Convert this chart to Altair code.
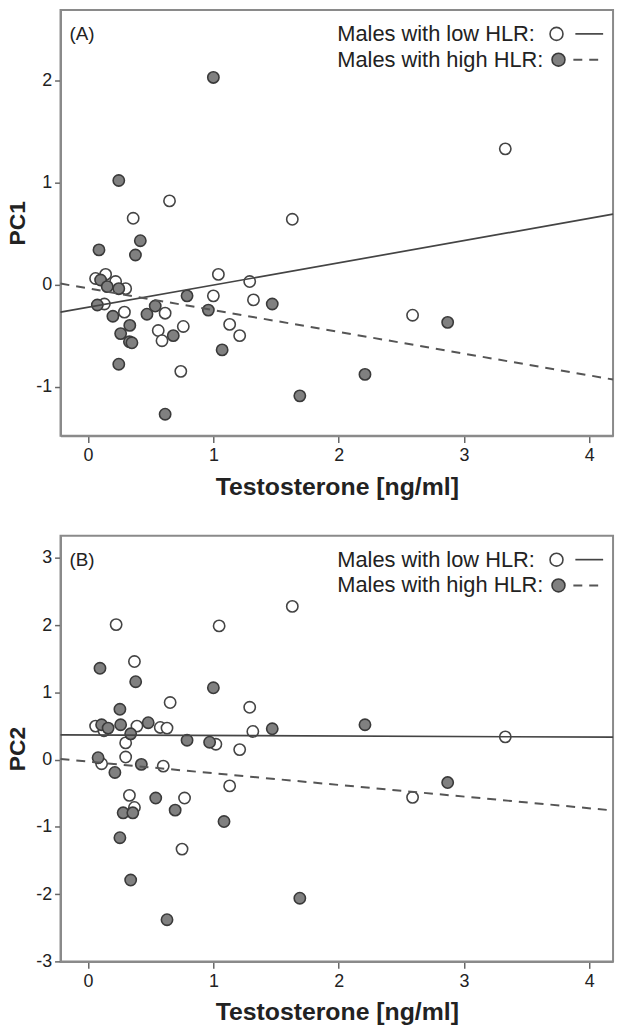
import altair as alt
import pandas as pd

# ---------------- data ----------------
# Panel A (PC1)
a_low_x = [3.33, 0.65, 0.36, 1.63, 1.04, 1.29, 0.06, 0.14, 0.22, 0.30, 1.00,
           1.32, 0.13, 0.29, 0.615, 0.56, 0.59, 0.76, 1.13, 1.21, 2.59, 0.74]
a_low_y = [1.33, 0.82, 0.65, 0.64, 0.10, 0.03, 0.06, 0.10, 0.03, -0.04, -0.11,
           -0.15, -0.19, -0.27, -0.28, -0.45, -0.55, -0.41, -0.39, -0.50, -0.30, -0.85]
a_high_x = [1.00, 0.245, 0.417, 0.087, 0.378, 0.10, 0.153, 0.245, 0.79, 1.47,
            0.96, 0.074, 0.536, 0.198, 0.47, 0.333, 0.26, 0.33, 0.35, 0.68,
            1.07, 0.245, 2.87, 2.21, 1.69, 0.615]
a_high_y = [2.03, 1.02, 0.43, 0.34, 0.29, 0.045, -0.02, -0.04, -0.11, -0.19,
            -0.25, -0.20, -0.21, -0.31, -0.29, -0.40, -0.48, -0.56, -0.57, -0.50,
            -0.64, -0.78, -0.37, -0.88, -1.09, -1.27]

# Panel B (PC2)
b_low_x = [0.224, 1.046, 1.63, 0.37, 0.655, 1.29, 0.06, 0.127, 0.39, 0.576,
           0.63, 1.315, 1.02, 1.21, 0.30, 0.30, 0.108, 0.60, 1.13, 0.33, 0.77,
           0.37, 0.75, 3.33, 2.59]
b_low_y = [2.01, 1.99, 2.28, 1.46, 0.85, 0.78, 0.50, 0.43, 0.50, 0.48,
           0.47, 0.42, 0.23, 0.15, 0.25, 0.04, -0.06, -0.095, -0.39, -0.53, -0.57,
           -0.71, -1.33, 0.34, -0.56]
b_high_x = [0.095, 0.38, 1.00, 0.254, 0.108, 0.16, 0.26, 0.48, 0.34, 0.79,
            0.97, 1.47, 2.21, 0.08, 0.425, 0.214, 0.54, 0.28, 0.357, 0.695,
            1.085, 0.254, 0.34, 0.63, 1.69, 2.87]
b_high_y = [1.36, 1.16, 1.07, 0.75, 0.52, 0.47, 0.52, 0.55, 0.385, 0.29,
            0.26, 0.46, 0.52, 0.03, -0.07, -0.19, -0.57, -0.79, -0.79, -0.75,
            -0.92, -1.16, -1.79, -2.38, -2.06, -0.34]

# regression line end points (read at the plot edges)
line_x = [-0.22, 4.19]
a_solid_y = [-0.27, 0.69]
a_dash_y = [0.01, -0.93]
b_solid_y = [0.37, 0.335]
b_dash_y = [0.01, -0.755]

x_ticks = [0, 1, 2, 3, 4]
a_y_ticks = [-1, 0, 1, 2]
b_y_ticks = [-3, -2, -1, 0, 1, 2, 3]
legend_labels = ["Males with low HLR:", "Males with high HLR:"]

FONT = "Liberation Sans"
W, H = 557, 429
AXIS_COL = "#8a8a8a"
TXT = "#222222"


def panel(low_x, low_y, high_x, high_y, solid_y, dash_y, ydom, yticks, ytitle, tag):
    xs = alt.Scale(domain=[-0.22, 4.19], nice=False, zero=False)
    ys = alt.Scale(domain=ydom, nice=False, zero=False)
    xax = alt.Axis(values=x_ticks, title="Testosterone [ng/ml]", grid=False,
                   tickSize=7, labelPadding=4, titlePadding=10,
                   labelFontSize=18, titleFontSize=25, titleFontWeight="bold",
                   labelFont=FONT, titleFont=FONT, labelColor=TXT, titleColor=TXT,
                   domainColor=AXIS_COL, domainWidth=2, tickColor="#666666", tickWidth=1.5)
    yax = alt.Axis(values=yticks, title=ytitle, grid=False,
                   tickSize=6, labelPadding=3, titlePadding=6,
                   labelFontSize=18, titleFontSize=23, titleFontWeight="bold",
                   labelFont=FONT, titleFont=FONT, labelColor=TXT, titleColor=TXT,
                   labelExpr="'' + datum.value",
                   domainColor=AXIS_COL, domainWidth=2, tickColor="#666666", tickWidth=1.5)

    low = pd.DataFrame({"x": low_x, "y": low_y})
    high = pd.DataFrame({"x": high_x, "y": high_y})
    sdf = pd.DataFrame({"x": line_x, "y": solid_y})
    ddf = pd.DataFrame({"x": line_x, "y": dash_y})

    enc = dict(x=alt.X("x:Q", scale=xs, axis=xax), y=alt.Y("y:Q", scale=ys, axis=yax))

    low_pts = alt.Chart(low).mark_point(shape="circle", filled=True, fill="white",
                                        stroke="#444444", strokeWidth=1.6, size=130,
                                        opacity=1).encode(**enc)
    high_pts = alt.Chart(high).mark_point(shape="circle", filled=True, fill="#808080",
                                          stroke="#3a3a3a", strokeWidth=1.6, size=130,
                                          opacity=1).encode(**enc)
    solid = alt.Chart(sdf).mark_line(color="#444444", strokeWidth=1.7).encode(**enc)
    dashed = alt.Chart(ddf).mark_line(color="#555555", strokeWidth=2,
                                      strokeDash=[9, 7]).encode(**enc)

    one = pd.DataFrame({"t": [tag]})
    tag_txt = alt.Chart(one).mark_text(align="left", baseline="middle", fontSize=19,
                                       font=FONT, color=TXT).encode(
        text="t:N", x=alt.value(9), y=alt.value(24))

    l1 = alt.Chart(pd.DataFrame({"t": [legend_labels[0]]})).mark_text(
        align="left", baseline="middle", fontSize=22, font=FONT, color=TXT).encode(
        text="t:N", x=alt.value(279), y=alt.value(24))
    l2 = alt.Chart(pd.DataFrame({"t": [legend_labels[1]]})).mark_text(
        align="left", baseline="middle", fontSize=22, font=FONT, color=TXT).encode(
        text="t:N", x=alt.value(279), y=alt.value(50))
    c1 = alt.Chart(one).mark_point(shape="circle", filled=True, fill="white",
                                   stroke="#444444", strokeWidth=1.6, size=170,
                                   opacity=1).encode(x=alt.value(500), y=alt.value(24))
    c2 = alt.Chart(one).mark_point(shape="circle", filled=True, fill="#808080",
                                   stroke="#3a3a3a", strokeWidth=1.6, size=170,
                                   opacity=1).encode(x=alt.value(502), y=alt.value(50))
    r1 = alt.Chart(one).mark_rule(color="#444444", strokeWidth=1.7).encode(
        x=alt.value(519), x2=alt.value(547), y=alt.value(24))
    r2 = alt.Chart(one).mark_rule(color="#555555", strokeWidth=2, strokeDash=[9, 7]).encode(
        x=alt.value(517), x2=alt.value(547), y=alt.value(50))

    return alt.layer(low_pts, high_pts, solid, dashed, tag_txt,
                     l1, l2, c1, c2, r1, r2).properties(width=W, height=H)


pa = panel(a_low_x, a_low_y, a_high_x, a_high_y, a_solid_y, a_dash_y,
           [-1.48, 2.69], a_y_ticks, "PC1", "(A)")
pb = panel(b_low_x, b_low_y, b_high_x, b_high_y, b_solid_y, b_dash_y,
           [-3.0, 3.33], b_y_ticks, "PC2", "(B)")

chart = alt.vconcat(pa, pb, spacing=35).properties(
    padding={"left": 5, "top": 5, "right": 1, "bottom": 0},
    background="white",
).configure_view(stroke=AXIS_COL, strokeWidth=2)

chart.save("out.html", embed_options={"renderer": "svg", "actions": False})
